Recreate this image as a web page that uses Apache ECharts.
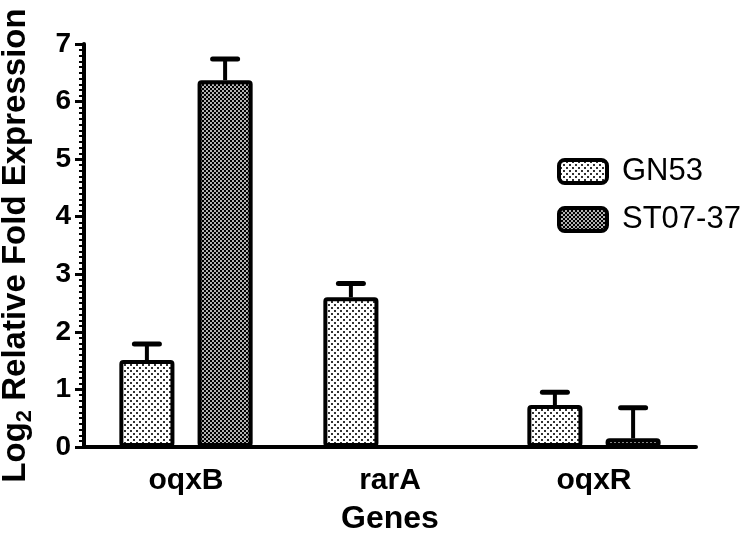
<!DOCTYPE html>
<html><head><meta charset="utf-8">
<script src="https://cdn.jsdelivr.net/npm/echarts@6/dist/echarts.min.js"></script>
<style>html,body{margin:0;padding:0;background:#fff}#c{width:750px;height:536px}</style>
</head><body><div id="c"></div>
<script>
// ---- data ----
const categories = ['oqxB', 'rarA', 'oqxR'];
const seriesNames = ['GN53', 'ST07-37'];
const gn53Values = [1.51, 2.60, 0.73];
const gn53Errors = [0.28, 0.24, 0.22];
const st0737Values = [6.37, 0, 0.15];
const st0737Errors = [0.37, 0, 0.53];
const yMin = 0, yMax = 7, yInterval = 1;

// ---- styles ----
const FONT = 'Liberation Sans, Arial, sans-serif';
const BAR_W = 0.27, BAR_GAP = 0.42;

function patternGN53() {
  const c = document.createElement('canvas'); c.width = 6; c.height = 6;
  const g = c.getContext('2d');
  g.fillStyle = '#fff'; g.fillRect(0, 0, 6, 6);
  g.fillStyle = '#333';
  g.fillRect(1, 1, 2, 2); g.fillRect(4, 4, 2, 2);
  return c;
}
function patternST() {
  const c = document.createElement('canvas'); c.width = 4; c.height = 4;
  const g = c.getContext('2d');
  g.fillStyle = '#000'; g.fillRect(0, 0, 4, 4);
  g.fillStyle = '#fff';
  g.beginPath(); g.arc(1, 1, 0.95, 0, Math.PI * 2); g.fill();
  g.beginPath(); g.arc(3, 3, 0.95, 0, Math.PI * 2); g.fill();
  return c;
}
const fillGN = { image: patternGN53(), repeat: 'repeat' };
const fillST = { image: patternST(), repeat: 'repeat' };

function errRenderer(side) {
  return function (params, api) {
    const cat = api.value(0), val = api.value(1), err = api.value(2);
    if (!err) return null;
    const base = api.coord([cat, val]);
    const top = api.coord([cat, val + err]);
    const band = api.size([1, 0])[0];
    const bw = band * BAR_W, gap = bw * BAR_GAP;
    const x = base[0] + side * (bw + gap) / 2;
    return { type: 'group', children: [
      { type: 'rect', shape: { x: x - 2, y: top[1], width: 4, height: base[1] - top[1] }, style: { fill: '#000' } },
      { type: 'rect', shape: { x: x - 15, y: top[1] - 2.5, width: 30, height: 5, r: 2.5 }, style: { fill: '#000' } }
    ] };
  };
}

const chart = echarts.init(document.getElementById('c'), null, { renderer: 'canvas' });
chart.setOption({
  animation: false,
  backgroundColor: '#fff',
  textStyle: { fontFamily: FONT, color: '#000' },
  grid: { left: 84, right: 54, top: 44, bottom: 89, containLabel: false, outerBoundsMode: 'none' },
  legend: {
    orient: 'vertical', left: 552, top: 151,
    itemWidth: 48, itemHeight: 23, itemGap: 17,
    icon: 'roundRect',
    data: seriesNames,
    itemStyle: { borderColor: '#000', borderWidth: 4 },
    textStyle: { fontFamily: FONT, fontSize: 31, color: '#000', padding: [0, 0, 0, 10] }
  },
  xAxis: {
    type: 'category', data: categories, boundaryGap: true,
    axisLine: { lineStyle: { color: '#000', width: 4 } },
    axisTick: { alignWithLabel: true, length: 7, lineStyle: { color: '#000', width: 3 } },
    axisLabel: { fontFamily: FONT, fontWeight: 'bold', fontSize: 30, color: '#000', margin: 19 },
    name: 'Genes', nameLocation: 'middle', nameGap: 56,
    nameTextStyle: { fontFamily: FONT, fontWeight: 'bold', fontSize: 32, color: '#000' }
  },
  yAxis: {
    type: 'value', min: yMin, max: yMax, interval: yInterval,
    axisLine: { show: true, lineStyle: { color: '#000', width: 4 } },
    axisTick: { show: true, length: 9, lineStyle: { color: '#000', width: 3 } },
    minorTick: { show: true, splitNumber: 10, length: 5, lineStyle: { color: '#000', width: 2 } },
    splitLine: { show: false },
    axisLabel: { fontFamily: FONT, fontWeight: 'bold', fontSize: 28, color: '#000', margin: 13 },
    name: '{a|Log}{s|2}{a| Relative Fold Expression}',
    nameLocation: 'middle', nameGap: 48, nameRotate: 90,
    nameTextStyle: {
      rich: {
        a: { fontFamily: FONT, fontWeight: 'bold', fontSize: 33, lineHeight: 40, color: '#000', verticalAlign: 'middle' },
        s: { fontFamily: FONT, fontWeight: 'bold', fontSize: 22, lineHeight: 22, color: '#000', verticalAlign: 'bottom' }
      }
    }
  },
  series: [
    { name: seriesNames[0], type: 'bar', data: gn53Values, barWidth: (BAR_W * 100) + '%', barGap: (BAR_GAP * 100) + '%',
      itemStyle: { color: fillGN, borderColor: '#000', borderWidth: 4, borderRadius: 2 } },
    { name: seriesNames[1], type: 'bar', data: st0737Values, barWidth: (BAR_W * 100) + '%', barGap: (BAR_GAP * 100) + '%',
      itemStyle: { color: fillST, borderColor: '#000', borderWidth: 4, borderRadius: 2 } },
    { type: 'custom', name: 'errGN', renderItem: errRenderer(-1), z: 3,
      data: categories.map((c, i) => [i, gn53Values[i], gn53Errors[i]]) },
    { type: 'custom', name: 'errST', renderItem: errRenderer(1), z: 3,
      data: categories.map((c, i) => [i, st0737Values[i], st0737Errors[i]]) }
  ]
});
</script>
</body></html>
